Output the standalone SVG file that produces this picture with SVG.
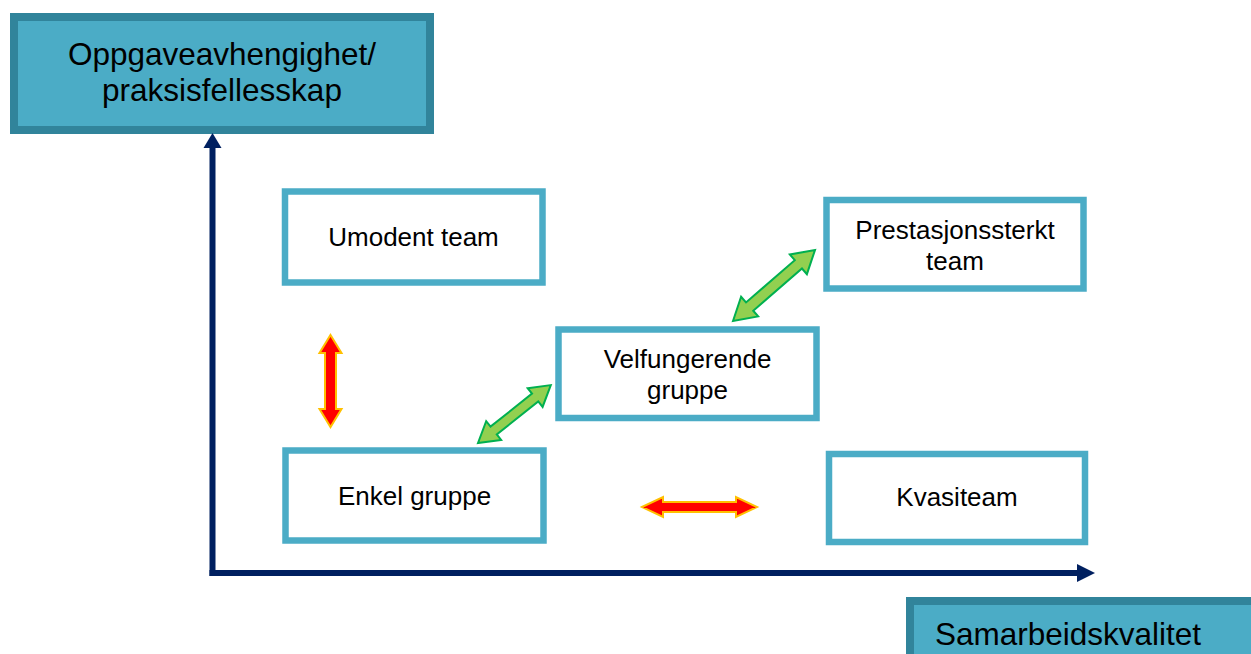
<svg xmlns="http://www.w3.org/2000/svg" width="1251" height="654" viewBox="0 0 1251 654">
  <style>
    .axis-title rect { fill: #4bacc6; stroke: #31849b; stroke-width: 8; }
    .axis-title text { font-family: "Liberation Sans", Arial, sans-serif; font-size: 31.5px; fill: #000; }
    .node rect { fill: #fff; stroke: #4bacc6; stroke-width: 6.5; }
    .node text { font-family: "Liberation Sans", Arial, sans-serif; font-size: 26px; fill: #000; text-anchor: middle; }
    .axis { stroke: #002060; stroke-width: 6; fill: none; }
    .axis-head { fill: #002060; }
    .red { fill: #ff0000; stroke: #ffc000; stroke-width: 2; stroke-linejoin: miter; }
    .green { fill: #92d050; stroke: #00b050; stroke-width: 2; stroke-linejoin: miter; }
  </style>

  <!-- Axis titles -->
  <g id="y-axis-title" class="axis-title">
    <rect x="14" y="17" width="416" height="113"/>
    <text x="222" y="65" text-anchor="middle">Oppgaveavhengighet/</text>
    <text x="222" y="101" text-anchor="middle">praksisfellesskap</text>
  </g>
  <g id="x-axis-title" class="axis-title">
    <rect x="910" y="601" width="360" height="80"/>
    <text x="935" y="645">Samarbeidskvalitet</text>
  </g>

  <!-- Nodes -->
  <g id="umodent-team" class="node">
    <rect x="285" y="191.5" width="257.5" height="91"/>
    <text x="413.5" y="246">Umodent team</text>
  </g>
  <g id="prestasjonssterkt-team" class="node">
    <rect x="826.5" y="200" width="257" height="88.5"/>
    <text x="955" y="239">Prestasjonssterkt</text>
    <text x="955" y="270">team</text>
  </g>
  <g id="velfungerende-gruppe" class="node">
    <rect x="558.5" y="329.5" width="258" height="88.5"/>
    <text x="687.5" y="368">Velfungerende</text>
    <text x="687.5" y="399">gruppe</text>
  </g>
  <g id="enkel-gruppe" class="node">
    <rect x="285.5" y="450.5" width="258" height="90"/>
    <text x="414.5" y="505">Enkel gruppe</text>
  </g>
  <g id="kvasiteam" class="node">
    <rect x="829" y="454" width="256" height="88"/>
    <text x="957" y="506">Kvasiteam</text>
  </g>

  <!-- Connectors: axes and double-headed arrows -->
  <g id="connectors">
    <line class="axis" x1="212.5" y1="576" x2="212.5" y2="146"/>
    <polygon class="axis-head" points="203.5,148 221.5,148 212.5,133"/>
    <line class="axis" x1="209.5" y1="573" x2="1079" y2="573"/>
    <polygon class="axis-head" points="1077,564 1077,582 1095,573"/>

    <!-- Umodent team <-> Enkel gruppe -->
    <polygon class="red" transform="translate(330.5,335) rotate(90)"
             points="0,0 18,-11 18,-5.5 74,-5.5 74,-11 92,0 74,11 74,5.5 18,5.5 18,11"/>
    <!-- Enkel gruppe <-> Kvasiteam -->
    <polygon class="red" transform="translate(642,507)"
             points="0,0 21,-10 21,-5 94,-5 94,-10 115,0 94,10 94,5 21,5 21,10"/>
    <!-- Enkel gruppe <-> Velfungerende gruppe -->
    <polygon class="green" transform="translate(478,443) rotate(-38.5)"
             points="0,0 20,-12 20,-5 73,-5 73,-12 93,0 73,12 73,5 20,5 20,12"/>
    <!-- Velfungerende gruppe <-> Prestasjonssterkt team -->
    <polygon class="green" transform="translate(733,321) rotate(-40.9)"
             points="0,0 22,-13 22,-5.5 86.5,-5.5 86.5,-13 108.5,0 86.5,13 86.5,5.5 22,5.5 22,13"/>
  </g>
</svg>
